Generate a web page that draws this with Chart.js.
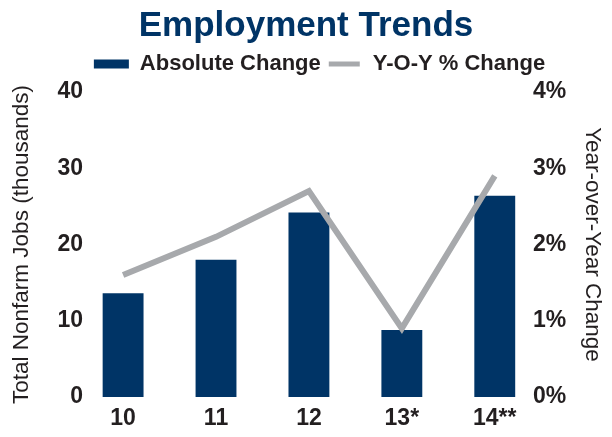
<!DOCTYPE html>
<html>
<head>
<meta charset="utf-8">
<script src="https://cdn.jsdelivr.net/npm/chart.js@4.4.1/dist/chart.umd.min.js"></script>
<style>
  html, body { margin: 0; padding: 0; background: #fff; }
  #wrap { width: 612px; height: 437px; }
</style>
</head>
<body>
<div id="wrap"><canvas id="chartEmployment"></canvas></div>
<script>
const years = ['10', '11', '12', '13*', '14**'];
const absoluteChange = [13.6, 18.0, 24.2, 8.8, 26.4];
const yoyChange = [1.6, 2.1, 2.7, 0.9, 2.9];
const leftTicks = [0, 10, 20, 30, 40];
const rightTicks = [0, 1, 2, 3, 4];

const navy = '#003466';
const gray = '#a7a9ac';
const ink = '#231f20';
const family = "'Liberation Sans', Arial, sans-serif";
const narrow = "'Liberation Sans Narrow', 'Liberation Sans', Arial, sans-serif";

// category index on a linear axis so the plot can sit a bit wider than the labels
const barPoints = absoluteChange.map((v, i) => ({ x: i, y: v }));
const linePoints = yoyChange.map((v, i) => ({ x: i, y: v }));

// extra room under the legend, and nudge it a little to the right
const legendTweak = {
  id: 'legendTweak',
  beforeInit: (chart) => {
    const fit = chart.legend.fit;
    chart.legend.fit = function () {
      fit.call(this);
      this.height += 7;
    };
  },
  beforeDraw: (chart) => {
    chart.legend.left = 27;
  }
};

let ctx = document.getElementById('chartEmployment').getContext('2d');

new Chart(ctx, {
  type: 'bar',
  data: {
    datasets: [
      {
        label: 'Absolute Change',
        data: barPoints,
        backgroundColor: navy,
        yAxisID: 'y',
        barPercentage: 0.44,
        categoryPercentage: 1,
        order: 1
      },
      {
        type: 'line',
        label: 'Y-O-Y % Change',
        data: linePoints,
        borderColor: gray,
        backgroundColor: gray,
        borderWidth: 6,
        pointRadius: 0,
        tension: 0,
        yAxisID: 'y1',
        order: 0
      }
    ]
  },
  plugins: [legendTweak],
  options: {
    responsive: true,
    maintainAspectRatio: false,
    animation: false,
    layout: { padding: 0 },
    plugins: {
      title: {
        display: true,
        text: 'Employment Trends',
        color: navy,
        font: { family: family, size: 35, weight: 'bold' },
        padding: { top: 5, bottom: 0 }
      },
      legend: {
        position: 'top',
        labels: {
          color: ink,
          font: { family: family, size: 22, weight: 'bold' },
          boxWidth: 35,
          boxHeight: 9,
          padding: 6,
          sort: (a, b) => a.datasetIndex - b.datasetIndex,
          generateLabels: (chart) => {
            let items = Chart.defaults.plugins.legend.labels.generateLabels(chart);
            items.forEach(item => {
              if (item.datasetIndex === 1) {
                item.fillStyle = gray;
                item.strokeStyle = '#fff';
                item.lineWidth = 4;
              } else {
                item.lineWidth = 0;
              }
            });
            return items;
          }
        }
      },
      tooltip: { enabled: false }
    },
    scales: {
      x: {
        type: 'linear',
        min: -0.41,
        max: 4.39,
        offset: false,
        afterBuildTicks: (scale) => { scale.ticks = years.map((_, i) => ({ value: i })); },
        afterFit: (scale) => { scale.height = 40; },
        grid: { display: false, drawTicks: false },
        border: { display: false },
        ticks: {
          color: ink,
          font: { family: narrow, size: 23, weight: 'bold' },
          padding: 8,
          callback: (v) => years[v]
        }
      },
      y: {
        position: 'left',
        min: leftTicks[0],
        max: leftTicks[leftTicks.length - 1],
        afterBuildTicks: (scale) => { scale.ticks = leftTicks.map(v => ({ value: v })); },
        afterFit: (scale) => { scale.width = 85; },
        grid: { display: false, drawTicks: false },
        border: { display: false },
        ticks: {
          color: ink,
          font: { family: narrow, size: 23, weight: 'bold' },
          padding: 2
        },
        title: {
          display: true,
          text: 'Total Nonfarm Jobs (thousands)',
          color: ink,
          font: { family: family, size: 22.5 },
          padding: { top: 8.5, bottom: 4 }
        }
      },
      y1: {
        position: 'right',
        min: rightTicks[0],
        max: rightTicks[rightTicks.length - 1],
        afterBuildTicks: (scale) => { scale.ticks = rightTicks.map(v => ({ value: v })); },
        afterFit: (scale) => { scale.width = 81; },
        grid: { display: false, drawTicks: false },
        border: { display: false },
        ticks: {
          color: ink,
          font: { family: narrow, size: 23, weight: 'bold' },
          padding: 2,
          callback: (v) => v + '%'
        },
        title: {
          display: true,
          text: 'Year-over-Year Change',
          color: ink,
          font: { family: family, size: 22.5 },
          padding: { top: 6.5, bottom: 4 }
        }
      }
    }
  }
});
</script>
</body>
</html>
